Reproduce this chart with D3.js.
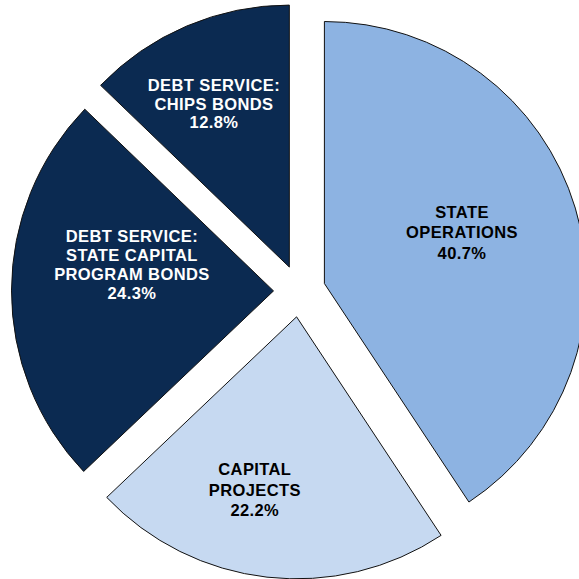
<!DOCTYPE html>
<html>
<head>
<meta charset="utf-8">
<script src="https://cdn.jsdelivr.net/npm/d3@7"></script>
<style>
  html, body { margin: 0; padding: 0; background: #fff; }
  svg { display: block; }
</style>
</head>
<body>
<svg id="chart" width="579" height="579"></svg>
<script>
// Spending categories, in clockwise order starting at 12 o'clock
const categories = [
  ["STATE", "OPERATIONS"],
  ["CAPITAL", "PROJECTS"],
  ["DEBT SERVICE:", "STATE CAPITAL", "PROGRAM BONDS"],
  ["DEBT SERVICE:", "CHIPS BONDS"]
];
const shares = [40.7, 22.2, 24.3, 12.8];
const fills = ["#8db3e2", "#c6d9f1", "#0b2a51", "#0b2a51"];
const textColors = ["#000000", "#000000", "#ffffff", "#ffffff"];

// Layout
const W = 579, H = 579;
const cx = 299.5, cy = 291;
const R = 262;          // slice radius
const explode = 26;     // distance each slice is pulled out from the centre
const fontSize = 16.5;
// Label placement per slice: radius fraction, angle nudge (degrees), line gap
const labelPos = [
  { k: 0.56,  dA: -3.6, gap: 20.5 },
  { k: 0.679, dA: 7.1,  gap: 20.5 },
  { k: 0.55,  dA: 10.5, gap: 19 },
  { k: 0.686, dA: -1.75, gap: 18.5 }
];

const svg = d3.select("#chart");
const g = svg.append("g").attr("transform", `translate(${cx},${cy})`);

const pie = d3.pie().sort(null).value(d => d).startAngle(0).endAngle(2 * Math.PI);
const arcs = pie(shares);
const arc = d3.arc().innerRadius(0).outerRadius(R);

const slice = g.selectAll("g.slice")
  .data(arcs)
  .join("g")
  .attr("class", "slice")
  .attr("transform", d => {
    const mid = (d.startAngle + d.endAngle) / 2;
    return `translate(${explode * Math.sin(mid)},${-explode * Math.cos(mid)})`;
  });

slice.append("path")
  .attr("d", arc)
  .attr("fill", (d, i) => fills[i])
  .attr("stroke", "#111")
  .attr("stroke-width", 1)
  .attr("stroke-linejoin", "miter");

// Labels: category lines followed by the percentage
slice.each(function (d, i) {
  const p = labelPos[i];
  const mid = (d.startAngle + d.endAngle) / 2 + p.dA * Math.PI / 180;
  const r = R * p.k;
  const x = r * Math.sin(mid);
  const y = -r * Math.cos(mid);
  const lines = categories[i].concat([d3.format(".1f")(shares[i]) + "%"]);
  const n = lines.length;
  const t = d3.select(this).append("text")
    .attr("text-anchor", "middle")
    .attr("font-family", "Arial, 'Liberation Sans', sans-serif")
    .attr("font-weight", "bold")
    .attr("font-size", fontSize)
    .attr("letter-spacing", 0.4)
    .attr("fill", textColors[i]);
  lines.forEach((s, j) => {
    t.append("tspan")
      .attr("x", x)
      .attr("y", y + (j - (n - 1) / 2) * p.gap + fontSize * 0.36)
      .text(s);
  });
});
</script>
</body>
</html>
